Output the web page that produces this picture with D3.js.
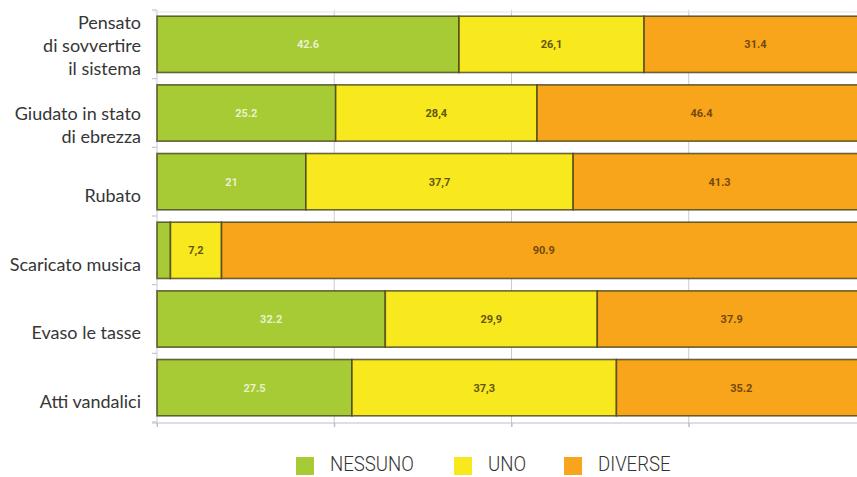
<!DOCTYPE html>
<html>
<head>
<meta charset="utf-8">
<script src="https://cdn.jsdelivr.net/npm/d3@7"></script>
<style>
  html, body { margin: 0; padding: 0; background: #fff; }
  svg { display: block; }
</style>
</head>
<body>
<svg id="chart" width="857" height="477"></svg>
<script>
// Categories (multi-line labels split on "|")
const categories = [
  "Pensato|di sovvertire|il sistema",
  "Giudato in stato|di ebrezza",
  "Rubato",
  "Scaricato musica",
  "Evaso le tasse",
  "Atti vandalici"
];

// Percentages per category
const nessuno = [42.6, 25.2, 21, 1.9, 32.2, 27.5];
const uno     = [26.1, 28.4, 37.7, 7.2, 29.9, 37.3];
const diverse = [31.4, 46.4, 41.3, 90.9, 37.9, 35.2];

const seriesNames = ["NESSUNO", "UNO", "DIVERSE"];
const seriesColors = ["#a6cb35", "#f8e81e", "#f9a51c"];
const labelColors = ["#f2f6dc", "#4a3c0c", "#5a3a08"];
const decimalMarks = [".", ",", "."];
const xTicks = [0, 25, 50, 75, 100];

const rows = categories.map((c, i) => ({
  category: c,
  NESSUNO: nessuno[i],
  UNO: uno[i],
  DIVERSE: diverse[i]
}));

const svg = d3.select("#chart");

const x = d3.scaleLinear().domain([0, 100]).range([157, 866]);
const y = d3.scaleBand()
  .domain(categories)
  .range([10, 422])
  .paddingInner(0.18)
  .paddingOuter(0.09);

const color = d3.scaleOrdinal().domain(seriesNames).range(seriesColors);

// Vertical gridlines, visible in the gaps between bars
svg.append("g")
  .selectAll("line")
  .data(xTicks)
  .join("line")
  .attr("x1", d => x(d)).attr("x2", d => x(d))
  .attr("y1", 10).attr("y2", 427)
  .attr("stroke", "#c8cad8")
  .attr("stroke-width", 1);

// Faint top frame line
svg.append("line")
  .attr("x1", 154).attr("x2", 857)
  .attr("y1", 12).attr("y2", 12)
  .attr("stroke", "#e4e4ea").attr("stroke-width", 1);

// Bottom axis
const xAxis = d3.axisBottom(x).tickValues(xTicks).tickSize(4).tickFormat("");
const axisG = svg.append("g")
  .attr("transform", "translate(0,423)")
  .call(xAxis);
axisG.select(".domain").attr("stroke", "#bdbdc8").attr("d", "M152,0H866");
axisG.selectAll(".tick line").attr("stroke", "#b8b8c6");

// Small marks on the left edge between categories
const step = y.step();
const gapMarks = categories.map(c => y(c) - (step - y.bandwidth()) / 2);
gapMarks.push(y(categories[categories.length - 1]) + y.bandwidth() + (step - y.bandwidth()) / 2);
svg.append("g")
  .selectAll("line")
  .data(gapMarks)
  .join("line")
  .attr("x1", 152).attr("x2", 157)
  .attr("y1", d => d).attr("y2", d => d)
  .attr("stroke", "#c4c6dc").attr("stroke-width", 1.2);

// Stacked bars
const stacked = d3.stack().keys(seriesNames)(rows);

const layers = svg.append("g")
  .selectAll("g")
  .data(stacked)
  .join("g")
  .attr("fill", d => color(d.key));

layers.selectAll("rect")
  .data(d => d)
  .join("rect")
  .attr("x", d => x(d[0]))
  .attr("y", d => y(d.data.category))
  .attr("width", d => x(d[1]) - x(d[0]))
  .attr("height", y.bandwidth())
  .attr("stroke", "rgba(70,66,30,0.8)")
  .attr("stroke-width", 1.6);

// Value labels inside segments
stacked.forEach((layer, si) => {
  svg.append("g")
    .selectAll("text")
    .data(layer.filter(d => x(d[1]) - x(d[0]) > 20))
    .join("text")
    .attr("x", d => (x(d[0]) + x(d[1])) / 2)
    .attr("y", d => y(d.data.category) + y.bandwidth() / 2)
    .attr("dy", "0.35em")
    .attr("text-anchor", "middle")
    .attr("font-family", "Roboto, 'DejaVu Sans', sans-serif")
    .attr("font-size", 11)
    .attr("font-weight", 700)
    .attr("fill", labelColors[si])
    .attr("opacity", si === 0 ? 0.9 : 0.85)
    .text(d => String(d.data[layer.key]).replace(".", decimalMarks[si]));
});

// Category labels, right-aligned next to the bars
const lineH = 23;
const catG = svg.append("g")
  .attr("font-family", "Lato, 'Open Sans', sans-serif")
  .attr("font-size", 18)
  .attr("fill", "#363636")
  .attr("text-anchor", "end");

categories.forEach(c => {
  const lines = c.split("|");
  const center = y(c) + y.bandwidth() / 2;
  // Block sits slightly below the bar centre; its last line never goes past centre + 24
  let last = center + 14 + (lines.length - 1) * lineH / 2;
  last = Math.min(last, center + 24);
  const first = last - (lines.length - 1) * lineH;
  const t = catG.append("text");
  lines.forEach((ln, k) => {
    t.append("tspan")
      .attr("x", 141)
      .attr("y", first + k * lineH)
      .attr("dy", "0.35em")
      .text(ln);
  });
});

// Legend
const legendX = [296, 454, 564];
const legend = svg.append("g");
seriesNames.forEach((name, i) => {
  legend.append("rect")
    .attr("x", legendX[i])
    .attr("y", 457)
    .attr("width", 18)
    .attr("height", 18)
    .attr("fill", color(name));
  legend.append("text")
    .attr("transform", `translate(${legendX[i] + 34},471) scale(0.93,1)`)
    .attr("font-family", "Roboto, sans-serif")
    .attr("font-weight", 300)
    .attr("font-size", 20)
    .attr("fill", "#333")
    .text(name);
});
</script>
</body>
</html>
